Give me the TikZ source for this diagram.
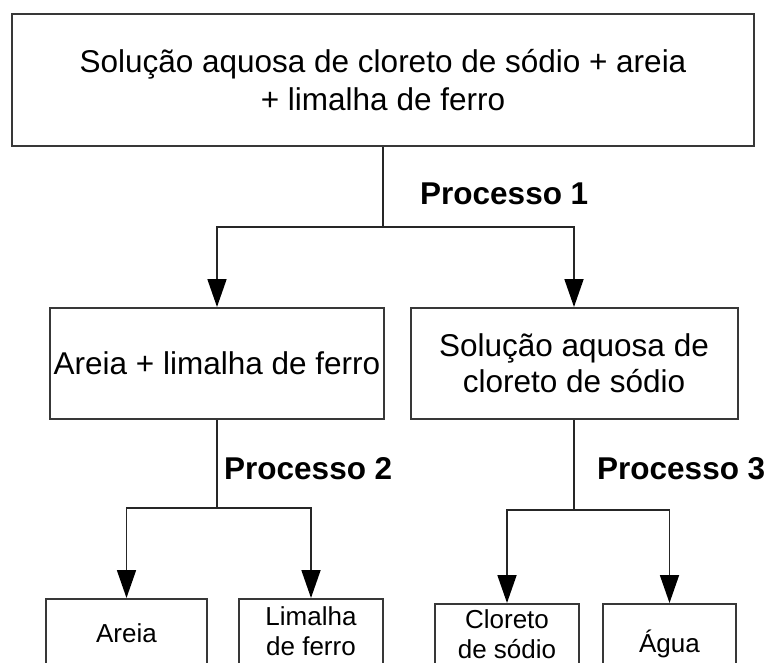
\documentclass[tikz,border=0pt]{standalone}
\usepackage{fontspec}
\setmainfont{Liberation Sans}
\usetikzlibrary{arrows.meta}
\begin{document}
\begin{tikzpicture}[x=1pt,y=-1pt,
  box/.style={draw=black!78, line width=2pt, rectangle, inner sep=0pt, align=center, anchor=north},
  big/.style={font=\fontsize{31.5}{38}\selectfont},
  bigb/.style={font=\fontsize{31.5}{36}\selectfont},
  small/.style={font=\fontsize{26}{30}\selectfont},
  conn/.style={draw=black!85, line width=1.8pt},
  arr/.style={conn, -{Triangle[length=28pt,width=19pt,fill=black,color=black]}},
  proc/.style={font=\bfseries\fontsize{31.5}{38}\selectfont, anchor=base west, inner sep=0pt}]
\clip (0,0) rectangle (768,662);
\fill[white] (0,0) rectangle (768,662);
\node[box,big,minimum width=742pt,minimum height=132pt] (top) at (383,13) {Solução aquosa de cloreto de sódio + areia\\+ limalha de ferro};
\node[box,big,minimum width=334pt,minimum height=111pt] (ml) at (217,307) {Areia + limalha de ferro};
\node[box,bigb,minimum width=327pt,minimum height=111pt] (mr) at (574,307) {Solução aquosa de\\cloreto de sódio};
\node[box,small,minimum width=161pt,minimum height=69pt] (a) at (126.5,598) {Areia};
\node[box,small,minimum width=144pt,minimum height=65pt] (b) at (311,598) {Limalha\\de ferro};
\node[box,small,minimum width=144pt,minimum height=61pt] (c) at (507,603) {Cloreto\\de sódio};
\node[box,small,minimum width=133pt,minimum height=80pt] (d) at (669.5,603) {Água};
\coordinate (j1) at (383,227);
\coordinate (j2) at (217,508);
\coordinate (j3) at (574,510);
\draw[conn] (top.south) -- (j1);
\draw[arr] (j1) -| (ml.north);
\draw[arr] (j1) -| (mr.north);
\draw[conn] (ml.south) -- (j2);
\draw[arr] (j2) -| (a.north);
\draw[arr] (j2) -| (b.north);
\draw[conn] (mr.south) -- (j3);
\draw[arr] (j3) -| (c.north);
\draw[arr] (j3) -| (d.north);
\node[proc] (p1) at (420,204) {Processo 1};
\node[proc] (p2) at (224,479) {Processo 2};
\node[proc] (p3) at (597,479) {Processo 3};
\end{tikzpicture}
\end{document}
